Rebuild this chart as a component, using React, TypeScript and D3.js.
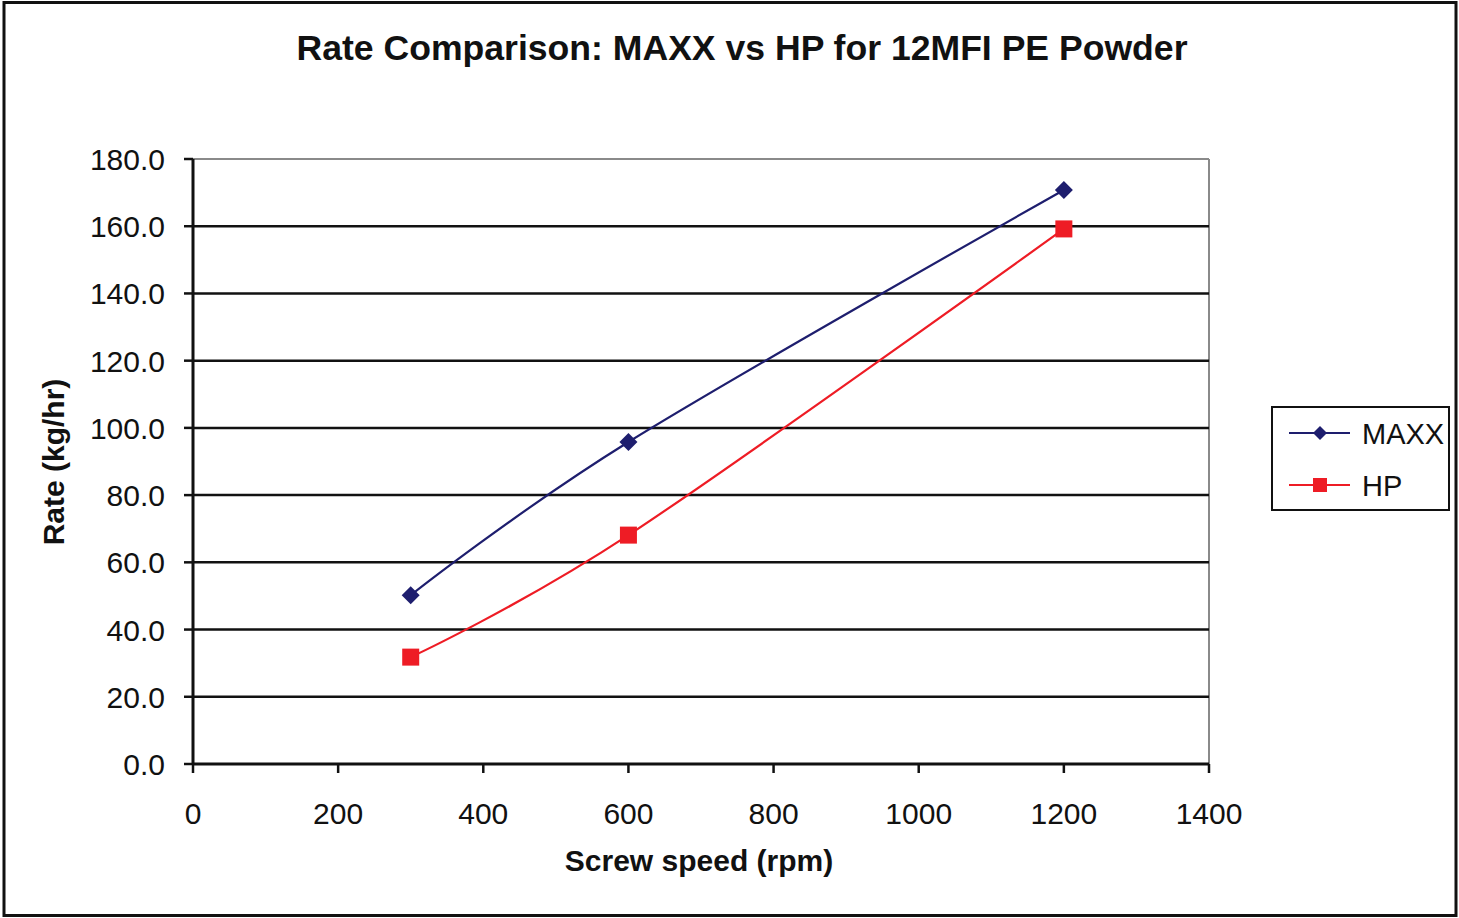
import React from "react";
import * as d3 from "d3";

const speeds = [300, 600, 1200];
const maxxRate = [50.2, 95.8, 170.8];
const hpRate = [31.8, 68.1, 159.2];
const xTicks = [0, 200, 400, 600, 800, 1000, 1200, 1400];
const yTicks = [0, 20, 40, 60, 80, 100, 120, 140, 160, 180];
const seriesNames = ["MAXX", "HP"];
const seriesColors = ["#1e1e6e", "#ee1c25"];

const W = 1459;
const H = 918;
const FONT = "'Liberation Sans', Arial, sans-serif";

export default function App() {
  const x = d3.scaleLinear().domain([0, 1400]).range([193, 1209]);
  const y = d3.scaleLinear().domain([0, 180]).range([764, 159]);
  const line = d3
    .line<[number, number]>()
    .x((d) => x(d[0]))
    .y((d) => y(d[1]))
    .curve(d3.curveCardinal.tension(0));

  const maxxPts: [number, number][] = speeds.map((s, i) => [s, maxxRate[i]]);
  const hpPts: [number, number][] = speeds.map((s, i) => [s, hpRate[i]]);

  const diamond = (cx: number, cy: number, r: number) =>
    `M${cx},${cy - r}L${cx + r},${cy}L${cx},${cy + r}L${cx - r},${cy}Z`;

  return (
    <svg
      width={W}
      height={H}
      style={{ position: "absolute", left: 0, top: 0, background: "#fff" }}
      fontFamily={FONT}
    >
      <rect x={0} y={0} width={W} height={H} fill="#fff" />
      <rect x={4} y={2.5} width={1452} height={913} fill="none" stroke="#111" strokeWidth={3} />

      {/* title */}
      <text x={742} y={60} textAnchor="middle" fontSize={35.6} fontWeight="bold" fill="#111">
        Rate Comparison: MAXX vs HP for 12MFI PE Powder
      </text>

      {/* plot frame top/right */}
      <line x1={x(0)} x2={x(1400)} y1={y(180)} y2={y(180)} stroke="#8a8a8a" strokeWidth={2} />
      <line x1={x(1400)} x2={x(1400)} y1={y(180)} y2={y(0)} stroke="#8a8a8a" strokeWidth={2} />

      {/* gridlines */}
      {yTicks.slice(1, -1).map((t) => (
        <line key={"g" + t} x1={x(0)} x2={x(1400)} y1={y(t)} y2={y(t)} stroke="#111" strokeWidth={2.5} />
      ))}

      {/* y axis */}
      <line x1={x(0)} x2={x(0)} y1={y(180)} y2={y(0)} stroke="#111" strokeWidth={3} />
      {yTicks.map((t) => (
        <g key={"y" + t}>
          <line x1={x(0) - 9} x2={x(0)} y1={y(t)} y2={y(t)} stroke="#111" strokeWidth={2.5} />
          <text x={165} y={y(t) + 11} textAnchor="end" fontSize={30} fill="#111">
            {t.toFixed(1)}
          </text>
        </g>
      ))}

      {/* x axis */}
      <line x1={x(0)} x2={x(1400)} y1={y(0)} y2={y(0)} stroke="#111" strokeWidth={3} />
      {xTicks.map((t) => (
        <g key={"x" + t}>
          <line x1={x(t)} x2={x(t)} y1={y(0)} y2={y(0) + 9} stroke="#111" strokeWidth={2.5} />
          <text x={x(t)} y={824} textAnchor="middle" fontSize={30} fill="#111">
            {t}
          </text>
        </g>
      ))}

      {/* axis titles */}
      <text x={699} y={871} textAnchor="middle" fontSize={30} fontWeight="bold" fill="#111">
        Screw speed (rpm)
      </text>
      <text
        transform="translate(64,462) rotate(-90)"
        textAnchor="middle"
        fontSize={30}
        fontWeight="bold"
        fill="#111"
      >
        Rate (kg/hr)
      </text>

      {/* series */}
      <path d={line(maxxPts) || ""} fill="none" stroke={seriesColors[0]} strokeWidth={2.2} />
      <path d={line(hpPts) || ""} fill="none" stroke={seriesColors[1]} strokeWidth={2.2} />
      {maxxPts.map((p, i) => (
        <path key={"m" + i} d={diamond(x(p[0]), y(p[1]), 9)} fill={seriesColors[0]} />
      ))}
      {hpPts.map((p, i) => (
        <rect key={"h" + i} x={x(p[0]) - 8.5} y={y(p[1]) - 8.5} width={17} height={17} fill={seriesColors[1]} />
      ))}

      {/* legend */}
      <rect x={1272} y={407} width={177} height={103} fill="#fff" stroke="#111" strokeWidth={2} />
      {seriesNames.map((name, i) => {
        const cy = 433 + i * 52;
        return (
          <g key={name}>
            <line x1={1289} x2={1350} y1={cy} y2={cy} stroke={seriesColors[i]} strokeWidth={2} />
            {i === 0 ? (
              <path d={diamond(1320, cy, 7)} fill={seriesColors[i]} />
            ) : (
              <rect x={1313} y={cy - 7} width={14} height={14} fill={seriesColors[i]} />
            )}
            <text x={1362} y={cy + 11} fontSize={29} fill="#111">
              {name}
            </text>
          </g>
        );
      })}
    </svg>
  );
}
